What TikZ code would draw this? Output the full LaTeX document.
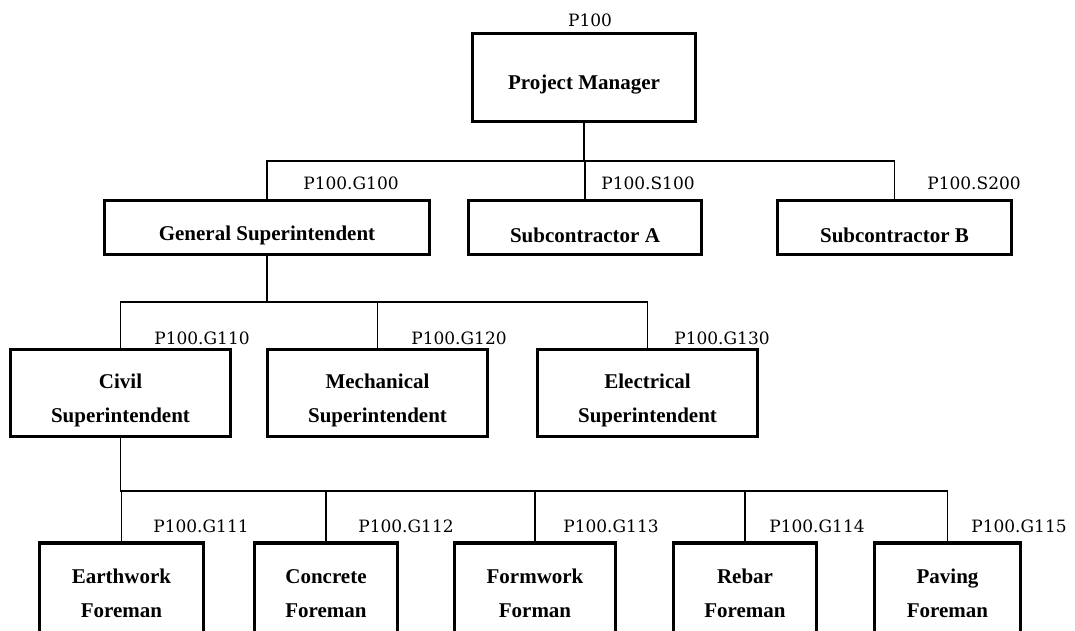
\documentclass[tikz,border=0pt]{standalone}
\usepackage{fontspec}
\setmainfont{Liberation Serif}
\newfontfamily\codefont{DejaVu Serif}
\usetikzlibrary{positioning}

\begin{document}
\begin{tikzpicture}[x=1pt,y=-1pt]
        \tikzstyle{box}=[draw, line width=3.2pt, inner sep=0pt]
        \tikzstyle{caption}=[inner sep=0pt, align=center, font=\fontsize{21}{34}\selectfont\bfseries]
        \tikzstyle{code}=[inner sep=0pt, font=\fontsize{17}{20}\selectfont\codefont]
        \tikzstyle{link}=[line width=1.6pt]
        \tikzset{
          post/.style={box, label={[caption, yshift=-7.5pt]center:{#1}}},
          crew/.style={box, minimum height=95pt, label={[caption, yshift=-3pt]center:{#1}}}
        }

        \clip (0,0) rectangle (1075,630);

        % top
        \node[post={Project Manager}, minimum width=223pt, minimum height=88pt] (pm) at (584,77.5) {};
        \node[code] (pmid) at (590,20) {P100};

        % second row
        \node[post={General Superintendent}, minimum width=325pt, minimum height=54pt] (gs) at (267,227.5) {};
        \node[post={Subcontractor A}, minimum width=233pt, minimum height=54pt] (sa) at (585,227.5) {};
        \node[post={Subcontractor B}, minimum width=234pt, minimum height=54pt] (sb) at (894.5,227.5) {};
        \node[code] (gsid) at (351,183) {P100.G100};
        \node[code] (said) at (648,183) {P100.S100};
        \node[code] (sbid) at (974,183) {P100.S200};

        % third row
        \node[post={Civil\\Superintendent}, minimum width=220pt, minimum height=87pt] (cs) at (120.5,393) {};
        \node[post={Mechanical\\Superintendent}, minimum width=220pt, minimum height=87pt] (ms) at (377.5,393) {};
        \node[post={Electrical\\Superintendent}, minimum width=220pt, minimum height=87pt] (es) at (647.5,393) {};
        \node[code] (csid) at (202,338) {P100.G110};
        \node[code] (msid) at (459,338) {P100.G120};
        \node[code] (esid) at (722,338) {P100.G130};

        % foremen, cut off by the page edge
        \node[crew={Earthwork\\Foreman}, minimum width=164pt] (ef) at (121.5,590.5) {};
        \node[crew={Concrete\\Foreman}, minimum width=143pt] (cf) at (326,590.5) {};
        \node[crew={Formwork\\Forman}, minimum width=161pt] (ff) at (535,590.5) {};
        \node[crew={Rebar\\Foreman}, minimum width=143pt] (rf) at (745,590.5) {};
        \node[crew={Paving\\Foreman}, minimum width=146pt] (pf) at (947.5,590.5) {};
        \node[code] (efid) at (201,526) {P100.G111};
        \node[code] (cfid) at (406,526) {P100.G112};
        \node[code] (ffid) at (611,526) {P100.G113};
        \node[code] (rfid) at (817,526) {P100.G114};
        \node[code] (pfid) at (1019,526) {P100.G115};

        % connectors
        \coordinate (bus1) at (0,161);
        \coordinate (bus2) at (0,302);
        \coordinate (bus3) at (0,491);

        \draw[link] (pm.south) -- (pm.south |- bus1);
        \draw[link] (gs.north) -- (gs.north |- bus1) -- (sb.north |- bus1) -- (sb.north);
        \draw[link] (sa.north) -- (sa.north |- bus1);

        \draw[link] (gs.south) -- (gs.south |- bus2);
        \draw[link] (cs.north) -- (cs.north |- bus2) -- (es.north |- bus2) -- (es.north);
        \draw[link] (ms.north) -- (ms.north |- bus2);

        \draw[link] (cs.south) -- (cs.south |- bus3) -- (pf.north |- bus3) -- (pf.north);
        \draw[link] (ef.north) -- (ef.north |- bus3);
        \draw[link] (cf.north) -- (cf.north |- bus3);
        \draw[link] (ff.north) -- (ff.north |- bus3);
        \draw[link] (rf.north) -- (rf.north |- bus3);
\end{tikzpicture}
\end{document}
